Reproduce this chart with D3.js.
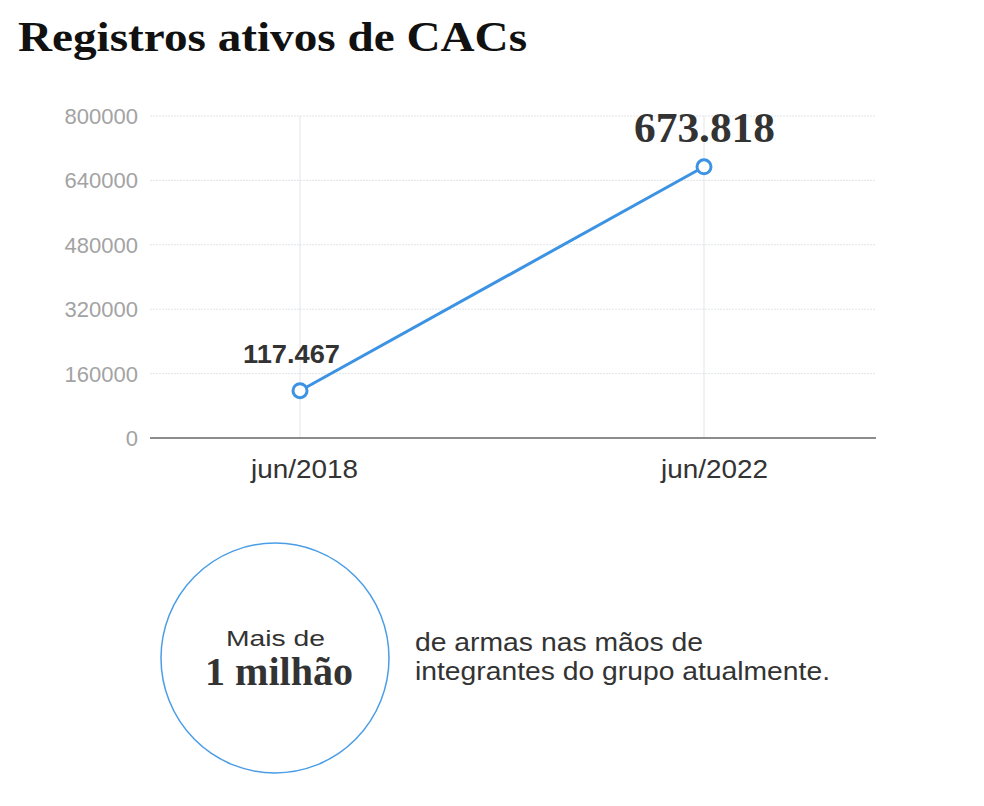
<!DOCTYPE html>
<html><head><meta charset="utf-8">
<script src="https://cdn.jsdelivr.net/npm/d3@7"></script>
<style>body{margin:0;background:#fff}</style>
</head><body>
<svg id="c" width="984" height="806"></svg>
<script>
const title = "Registros ativos de CACs";
const categories = ["jun/2018", "jun/2022"];
const values = [117467, 673818];
const valueLabels = ["117.467", "673.818"];
const yTicks = [0, 160000, 320000, 480000, 640000, 800000];
const noteSmall = "Mais de";
const noteBig = "1 milhão";
const noteText = ["de armas nas mãos de", "integrantes do grupo atualmente."];

const svg = d3.select("#c");
const blue = "#3c92e3";
const sans = "'Liberation Sans', Arial, sans-serif";
const serif = "'Liberation Serif', 'Times New Roman', serif";

svg.append("text").attr("x", 18).attr("y", 51)
  .attr("font-family", serif).attr("font-weight", "bold")
  .attr("font-size", 42).attr("fill", "#111")
  .attr("textLength", 509).attr("lengthAdjust", "spacingAndGlyphs")
  .text(title);

const y = d3.scaleLinear().domain([0, 800000]).range([438, 116]);
const x = d3.scalePoint().domain(categories).range([300, 704]);
const xLab = d3.scalePoint().domain(categories).range([304.5, 714.5]);
const gridL = 150, gridR = 876;

svg.append("g").selectAll("line").data(yTicks.filter(d => d > 0)).join("line")
  .attr("x1", gridL).attr("x2", gridR).attr("y1", d => y(d)).attr("y2", d => y(d))
  .attr("stroke", "#e0e4e8").attr("stroke-width", 1).attr("stroke-dasharray", "2,1");
svg.append("g").selectAll("line").data(categories).join("line")
  .attr("x1", d => x(d)).attr("x2", d => x(d)).attr("y1", y(800000)).attr("y2", y(0))
  .attr("stroke", "#e0e4e8").attr("stroke-width", 1);
svg.append("line").attr("x1", gridL).attr("x2", gridR).attr("y1", y(0)).attr("y2", y(0))
  .attr("stroke", "#666").attr("stroke-width", 1.5);

svg.append("g").selectAll("text").data(yTicks).join("text")
  .attr("x", 138).attr("y", d => y(d) + 8).attr("text-anchor", "end")
  .attr("font-family", sans).attr("font-size", 22)
  .attr("fill", "#a3a3a3").text(d => d);

svg.append("g").selectAll("text").data(categories).join("text")
  .attr("x", d => xLab(d)).attr("y", 478).attr("text-anchor", "middle")
  .attr("font-family", sans).attr("font-size", 25)
  .attr("textLength", 107).attr("lengthAdjust", "spacingAndGlyphs")
  .attr("fill", "#333").text(d => d);

const pts = categories.map((c, i) => ({c, v: values[i], l: valueLabels[i]}));
svg.append("path").datum(pts)
  .attr("d", d3.line().x(d => x(d.c)).y(d => y(d.v)))
  .attr("fill", "none").attr("stroke", blue).attr("stroke-width", 3);
svg.append("g").selectAll("circle").data(pts).join("circle")
  .attr("cx", d => x(d.c)).attr("cy", d => y(d.v)).attr("r", 7)
  .attr("fill", "#fff").attr("stroke", blue).attr("stroke-width", 3);

svg.append("text").attr("x", x(categories[0]) - 8.5).attr("y", 363)
  .attr("text-anchor", "middle").attr("font-family", sans)
  .attr("font-weight", "bold").attr("font-size", 26).attr("fill", "#333")
  .attr("textLength", 97).attr("lengthAdjust", "spacingAndGlyphs")
  .text(valueLabels[0]);
svg.append("text").attr("x", x(categories[1]) + 0.5).attr("y", 142)
  .attr("text-anchor", "middle").attr("font-family", serif)
  .attr("font-weight", "bold").attr("font-size", 42).attr("fill", "#333")
  .attr("textLength", 141).attr("lengthAdjust", "spacingAndGlyphs")
  .text(valueLabels[1]);

svg.append("ellipse").attr("cx", 275).attr("cy", 658).attr("rx", 114).attr("ry", 115)
  .attr("fill", "none").attr("stroke", "#4a9de6").attr("stroke-width", 1.5);
svg.append("text").attr("x", 275.5).attr("y", 646).attr("text-anchor", "middle")
  .attr("font-family", sans).attr("font-size", 22).attr("fill", "#333")
  .attr("textLength", 99).attr("lengthAdjust", "spacingAndGlyphs")
  .text(noteSmall);
svg.append("text").attr("x", 279).attr("y", 685).attr("text-anchor", "middle")
  .attr("font-family", serif).attr("font-weight", "bold")
  .attr("font-size", 39).attr("fill", "#333")
  .attr("textLength", 148).attr("lengthAdjust", "spacingAndGlyphs")
  .text(noteBig);
const noteW = [288, 415];
svg.append("g").selectAll("text").data(noteText).join("text")
  .attr("x", 415).attr("y", (d, i) => 651 + i * 29)
  .attr("font-family", sans).attr("font-size", 25)
  .attr("textLength", (d, i) => noteW[i]).attr("lengthAdjust", "spacingAndGlyphs")
  .attr("fill", "#333").text(d => d);
</script>
</body></html>
